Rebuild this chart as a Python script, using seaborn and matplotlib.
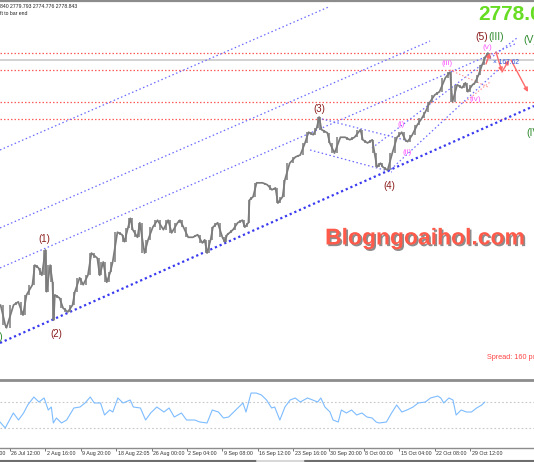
import matplotlib
matplotlib.use("Agg")
import matplotlib.pyplot as plt
import matplotlib.patheffects as pe
from matplotlib.lines import Line2D
import matplotlib.transforms as mtransforms
import numpy as np
import pandas as pd
import seaborn as sns

# ---------------- data (H4 bar index vs price) ----------------
bar_idx = [-8, -4, -3, 3, 7, 11, 14, 19, 21, 24,
           27, 30, 31, 34, 36, 37, 38, 42, 45, 49,
           53, 55, 59, 62, 66, 69, 74, 76, 79, 82,
           85, 87, 91, 95, 97, 100, 102, 104, 108, 110,
           114, 117, 121, 125, 130, 134, 137, 142, 144, 147,
           151, 155, 159, 163, 165, 167, 170, 172, 176, 180,
           182, 184, 186, 189, 193, 197, 199, 202, 203, 206,
           209, 214, 218, 222, 225, 227, 231, 233, 237, 242,
           246, 250, 253, 257, 260, 262, 264, 269, 271, 275,
           280, 284, 288, 292, 297, 299, 303, 307, 309, 311,
           314, 316, 320, 324, 328, 332, 335, 337, 341, 345,
           349, 352, 356, 360, 364, 369, 373, 375, 379, 383,
           386, 388, 392, 394, 397, 400, 403, 405, 407]
price = [2395, 2363, 2359, 2395, 2400, 2379, 2411, 2427, 2458, 2454,
         2442, 2482, 2416, 2458, 2431, 2371, 2411, 2406, 2390, 2384,
         2395, 2416, 2438, 2427, 2442, 2477, 2469, 2442, 2463, 2431,
         2447, 2463, 2510, 2506, 2495, 2517, 2532, 2514, 2502, 2525,
         2477, 2498, 2518, 2529, 2514, 2529, 2509, 2525, 2529, 2518,
         2502, 2502, 2506, 2493, 2498, 2477, 2498, 2518, 2525, 2502,
         2495, 2506, 2509, 2514, 2525, 2529, 2518, 2525, 2561, 2566,
         2588, 2588, 2585, 2577, 2580, 2556, 2566, 2593, 2619, 2629,
         2632, 2651, 2668, 2664, 2675, 2692, 2672, 2667, 2651, 2635,
         2660, 2660, 2656, 2660, 2672, 2656, 2651, 2656, 2635, 2613,
         2619, 2613, 2608, 2635, 2660, 2668, 2656, 2653, 2664, 2679,
         2690, 2700, 2716, 2727, 2732, 2754, 2763, 2716, 2743, 2738,
         2746, 2732, 2743, 2746, 2758, 2774, 2787, 2793, 2787]

osc_bar = [-8.5, -4.1, 2.8, 7.2, 11.5, 15.0, 20.2, 24.5, 28.9, 32.4,
           35.0, 36.7, 39.3, 43.6, 48.0, 54.1, 59.3, 63.6, 68.0, 71.4,
           76.7, 80.1, 84.5, 87.1, 91.4, 95.8, 101.9, 104.5, 110.5, 114.9,
           119.2, 124.4, 130.5, 134.8, 139.2, 145.3, 149.6, 156.6, 160.9, 167.0,
           171.4, 176.6, 180.9, 185.3, 191.3, 197.4, 200.0, 204.3, 208.7, 213.1,
           217.4, 221.7, 224.3, 228.7, 233.0, 237.4, 241.7, 246.0, 252.1, 256.5,
           260.8, 263.4, 266.9, 271.2, 273.8, 278.2, 280.8, 285.1, 289.5, 293.8,
           298.2, 302.5, 306.9, 310.3, 312.9, 319.0, 323.4, 327.7, 332.1, 336.4,
           341.6, 346.0, 352.0, 356.4, 362.5, 365.1, 367.6, 372.0, 375.4, 378.1,
           382.4, 386.8, 391.1, 395.5, 399.8, 402.4]
osc_val = [39.2, 30.0, 53.1, 42.3, 53.1, 65.4, 77.7, 70.0, 76.2, 57.7,
           62.3, 37.7, 45.4, 37.7, 42.3, 60.8, 62.3, 68.5, 77.7, 68.5,
           68.5, 50.0, 57.7, 54.6, 76.2, 68.5, 73.1, 62.3, 60.8, 42.3,
           53.1, 62.3, 54.6, 60.8, 46.9, 53.1, 42.3, 42.3, 39.2, 37.7,
           57.7, 54.6, 45.4, 46.9, 57.7, 68.5, 54.6, 83.8, 83.8, 80.8,
           73.1, 60.8, 62.3, 42.3, 62.3, 73.1, 76.2, 70.0, 76.2, 73.1,
           70.0, 76.2, 62.3, 54.6, 42.3, 39.2, 57.7, 53.1, 57.7, 50.0,
           53.1, 46.9, 45.4, 39.2, 37.7, 39.2, 53.1, 65.4, 54.6, 57.7,
           62.3, 68.5, 70.0, 76.2, 79.2, 76.2, 68.5, 76.2, 73.1, 50.0,
           57.7, 54.6, 54.6, 60.8, 65.4, 70.0]
osc_levels = [70, 30]

tick_bars = [-30, 0, 30, 60, 90, 120, 150, 180, 210, 240, 270, 300, 330, 360, 390]
tick_labels = ["19 Jul 08:00", "26 Jul 12:00", "2 Aug 16:00", "9 Aug 20:00",
               "18 Aug 22:05", "26 Aug 00:00", "2 Sep 04:00", "9 Sep 08:00",
               "16 Sep 12:00", "23 Sep 16:00", "30 Sep 20:00", "8 Oct 00:00",
               "15 Oct 04:00", "22 Oct 08:00", "29 Oct 12:00"]

level_prices = [2793.2, 2766.3, 2715.7, 2688.8]
current_price = 2782.1

# trend lines: (bar0, price0, bar1, price1)
channel_lines = [(-8.5, 2639.9, 271.2, 2866.8),
                 (-8.5, 2516.7, 356.0, 2812.1),
                 (-8.5, 2453.5, 428.0, 2807.4),
                 (261.0, 2690.5, 334.8, 2655.7),
                 (254.3, 2639.9, 323.7, 2605.1),
                 (306.8, 2643.1, 429.7, 2816.9),
                 (320.4, 2605.1, 415.3, 2769.5)]
base_line = (-8.5, 2335.0, 444.1, 2709.4)
triangle_lines = [(372.9, 2766.3, 405.1, 2739.4),
                  (385.6, 2715.7, 406.8, 2747.3)]
forecast_arrows = [(403.4, 2775.8, 406.8, 2793.2),
                   (411.9, 2794.7, 417.0, 2763.1),
                   (417.0, 2763.1, 422.9, 2782.1),
                   (424.6, 2782.1, 439.0, 2731.5)]

wave_major = [("(1)", 28.8, 2499.3), ("(2)", 39.0, 2349.2), ("(3)", 261.9, 2704.7),
              ("(4)", 321.2, 2583.0)]
wave_minor = [("(i)", 331.4, 2679.4), ("(ii)", 336.5, 2635.2), ("(iii)", 370.4, 2775.8),
              ("(iv)", 394.1, 2718.9), ("(v)", 404.3, 2801.1)]

# ---------------- figure ----------------
sns.set_style("white")
plt.rcParams['font.family'] = ['Liberation Sans', 'DejaVu Sans']

W, H = 534, 462
fig = plt.figure(figsize=(W / 100, H / 100), dpi=100)
fig.patch.set_facecolor("white")
ax = fig.add_axes([0, 1 - 380 / H, 1, 379 / H])
ax2 = fig.add_axes([0, 1 - 448 / H, 1, 66 / H])

xlim = (-8.5, 444.1)

# price pane
df = pd.DataFrame({"bar": bar_idx, "price": price})
for y in level_prices:
    ax.axhline(y, color="#ff5c5c", ls=(0, (1.2, 1.6)), lw=0.9, zorder=1)
ax.axhline(current_price, color="#cfcfcf", lw=1.3, zorder=1)

for b0, p0, b1, p1 in channel_lines:
    ax.plot([b0, b1], [p0, p1], color="#6a6aff", ls=(0, (1.2, 2.0)), lw=0.9, zorder=1)
b0, p0, b1, p1 = base_line
ax.plot([b0, b1], [p0, p1], color="#3a3af0", ls=(0, (1.0, 1.3)), lw=1.6, zorder=1)
for b0, p0, b1, p1 in triangle_lines:
    ax.plot([b0, b1], [p0, p1], color="#ff8a8a", ls=(0, (1.2, 1.8)), lw=0.8, zorder=1)

arr = np.array(price, dtype=float)
bx = np.array(bar_idx, dtype=float)
ax.vlines((bx[:-1] + bx[1:]) / 2, np.minimum(arr[:-1], arr[1:]),
          np.maximum(arr[:-1], arr[1:]), color="#7c7c7c", lw=1.1, zorder=2)
sns.lineplot(data=df, x="bar", y="price", ax=ax, color="#7c7c7c", lw=1.25, zorder=3)

for b0, p0, b1, p1 in forecast_arrows:
    ax.annotate("", xy=(b1, p1), xytext=(b0, p0),
                arrowprops=dict(arrowstyle="-|>", color="#ff6a6a", lw=1.0,
                                mutation_scale=6, shrinkA=0, shrinkB=0))

for t, x, y in wave_major:
    ax.text(x, y, t, color="#8b1c1c", fontsize=7, ha="center", va="center")
for t, x, y in wave_minor:
    ax.text(x, y, t, color="#ff5cff", fontsize=6, ha="center", va="center")
ax.text(405.1, 2818.4, "(5)", color="#8b1c1c", fontsize=7.5, ha="right", va="center")
ax.text(405.1, 2818.4, "(III)", color="#2e8b2e", fontsize=7.5, ha="left", va="center")
ax.text(434.8, 2813.7, "(V)", color="#2e8b2e", fontsize=7.5, ha="left", va="center")
ax.text(437.3, 2666.8, "(IV)", color="#2e8b2e", fontsize=7.5, ha="left", va="center")
ax.text(-5.9, 2344.4, "(II)", color="#2e8b2e", fontsize=7.5, ha="right", va="center")

ax.text(396.6, 2854.0, "2778.04", color="#66dd22", fontsize=15, fontweight="bold",
        ha="left", va="center")
ax.text(409.3, 2778.9, "\u00d7 167.62", color="#3355dd", fontsize=4.8, ha="left", va="center")
ax.text(267.0, 2500.9, "Blogngoaihol.com", color="#ff5a4a", fontsize=16.5,
        fontweight="bold", ha="left", va="center",
        path_effects=[pe.withSimplePatchShadow(offset=(1.2, -1.2), shadow_rgbFace="#707070",
                                               alpha=0.8)])
ax.text(404.3, 2311.3, "Spread: 160 points", color="#ff4444", fontsize=5.2,
        ha="left", va="center")

ax.set_xlim(*xlim)
ax.set_ylim(2276.5, 2875.3)
ax.set_xticks([])
ax.set_yticks([])
ax.set_xlabel("")
ax.set_ylabel("")
for s in ["left", "right"]:
    ax.spines[s].set_visible(False)
ax.spines["top"].set_color("#8c8c8c")
ax.spines["top"].set_linewidth(1.6)
ax.spines["bottom"].set_color("#8c8c8c")
ax.spines["bottom"].set_linewidth(2.0)

# oscillator pane
for y in osc_levels:
    ax2.axhline(y, color="#c8c8c8", ls=(0, (1.5, 2)), lw=0.8)
sns.lineplot(x=osc_bar, y=osc_val, ax=ax2, color="#7dbcff", lw=0.8)
ax2.set_xlim(*xlim)
ax2.set_ylim(-0.8, 100.8)
ax2.set_yticks([])
ax2.set_xticks([b for b in tick_bars if xlim[0] <= b <= xlim[1]])
ax2.set_xticklabels([])
ax2.tick_params(axis="x", length=2.2, width=0.6, pad=1.2, color="#606060", direction="out",
                bottom=True)
trans = mtransforms.blended_transform_factory(ax2.transData, ax2.transAxes)
for b, lab in zip(tick_bars, tick_labels):
    ax2.text(b + 1.2, -0.045, lab, transform=trans, fontsize=3.8, color="#303030",
             ha="left", va="top", clip_on=False)
ax2.set_xlabel("")
ax2.set_ylabel("")
for s in ["left", "right", "top"]:
    ax2.spines[s].set_visible(False)
ax2.spines["bottom"].set_color("#8c8c8c")
ax2.spines["bottom"].set_linewidth(1.0)

# header texts
fig.text(0.0, 1 - 6 / H, "840 2779.793 2774.776 2778.843", fontsize=3.7, color="#202020",
         ha="left", va="center")
fig.text(0.0, 1 - 13.5 / H, "ft to bar end", fontsize=3.7, color="#202020",
         ha="left", va="center")

# bottom scrollbar line
fig.add_artist(Line2D([0, 257 / W], [1 - 460.5 / H] * 2, color="#6e6e6e", lw=1.5))
fig.add_artist(Line2D([257 / W, 305 / W], [1 - 460.5 / H] * 2, color="#d8d8d8", lw=1.5))
fig.add_artist(Line2D([305 / W, 1], [1 - 460.5 / H] * 2, color="#6e6e6e", lw=1.5))

fig.savefig("out.png", dpi=100)
